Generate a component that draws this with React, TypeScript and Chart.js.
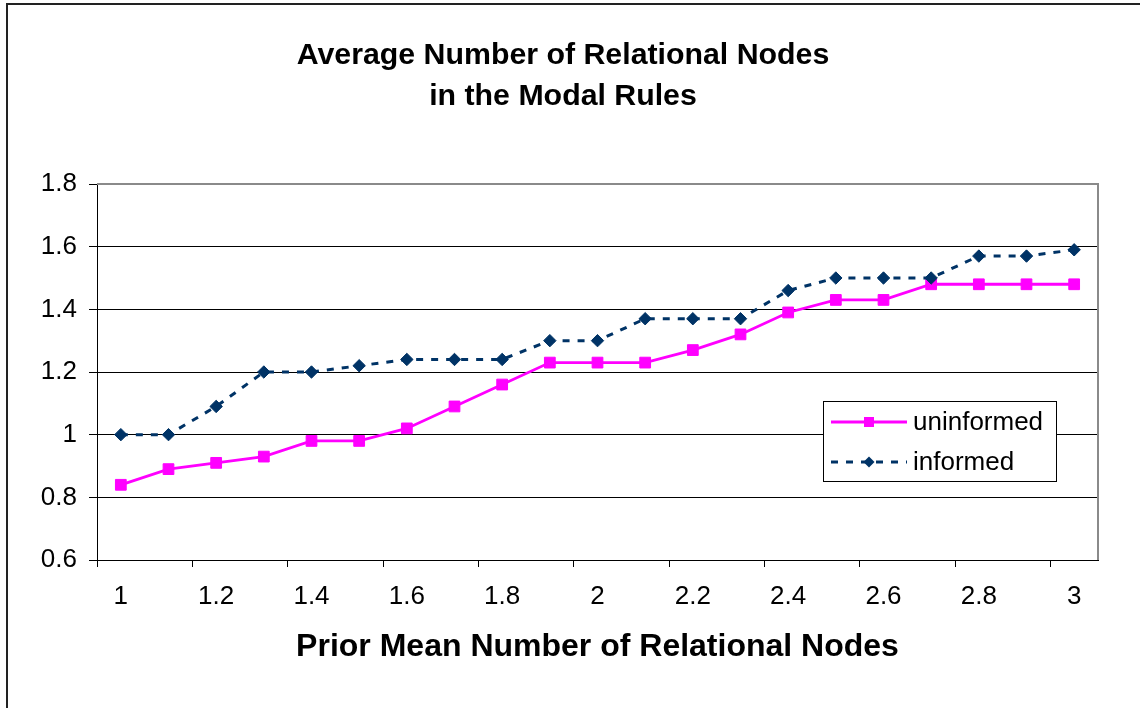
import React, { useEffect, useRef } from 'react';
import { Chart, registerables } from 'chart.js';

Chart.register(...registerables);

const categories = ['1', '1.1', '1.2', '1.3', '1.4', '1.5', '1.6', '1.7', '1.8', '1.9', '2', '2.1', '2.2', '2.3', '2.4', '2.5', '2.6', '2.7', '2.8', '2.9', '3'];
const uninformed = [0.84, 0.89, 0.91, 0.93, 0.98, 0.98, 1.02, 1.09, 1.16, 1.23, 1.23, 1.23, 1.27, 1.32, 1.39, 1.43, 1.43, 1.48, 1.48, 1.48, 1.48];
const informed = [1.0, 1.0, 1.09, 1.2, 1.2, 1.22, 1.24, 1.24, 1.24, 1.3, 1.3, 1.37, 1.37, 1.37, 1.46, 1.5, 1.5, 1.5, 1.57, 1.57, 1.59];
const yTicks = [0.6, 0.8, 1.0, 1.2, 1.4, 1.6, 1.8];
const titleLines = ['Average Number of Relational Nodes', 'in the Modal Rules'];
const xTitle = 'Prior Mean Number of Relational Nodes';
const seriesNames = ['uninformed', 'informed'];

const FONT = '"Liberation Sans", Arial, Helvetica, sans-serif';
const MAGENTA = '#FF00FF';
const NAVY = '#003366';

const framePlugin = {
  id: 'frame',
  beforeDraw(chart: any) {
    const ctx = chart.ctx;
    ctx.save();
    ctx.fillStyle = '#ffffff';
    ctx.fillRect(0, 0, chart.width, chart.height);
    ctx.strokeStyle = '#222222';
    ctx.lineWidth = 2;
    ctx.strokeRect(7, 4, 1400, 1400);
    ctx.restore();
  },
  beforeDatasetsDraw(chart: any) {
    const { ctx, chartArea } = chart;
    ctx.save();
    ctx.strokeStyle = '#8a8a8a';
    ctx.lineWidth = 2;
    ctx.beginPath();
    ctx.moveTo(chartArea.left, chartArea.top);
    ctx.lineTo(chartArea.right, chartArea.top);
    ctx.lineTo(chartArea.right, chartArea.bottom);
    ctx.stroke();
    ctx.restore();
  },
};

const titlePlugin = {
  id: 'customTitle',
  afterDraw(chart: any) {
    const ctx = chart.ctx;
    ctx.save();
    ctx.fillStyle = '#000';
    ctx.font = `bold 30.3px ${FONT}`;
    ctx.textAlign = 'center';
    ctx.textBaseline = 'middle';
    titleLines.forEach((t, i) => ctx.fillText(t, 563, 56 + i * 41));
    ctx.restore();
  },
};

const legendPlugin = {
  id: 'customLegend',
  afterDraw(chart: any) {
    const { ctx, chartArea } = chart;
    const bx = chartArea.right - 275;
    const by = chartArea.top + 217;
    const bw = 233;
    const bh = 80;
    ctx.save();
    ctx.fillStyle = '#fff';
    ctx.fillRect(bx, by, bw, bh);
    ctx.strokeStyle = '#000';
    ctx.lineWidth = 1;
    ctx.strokeRect(bx + 0.5, by + 0.5, bw, bh);
    chart.data.datasets.forEach((ds: any, i: number) => {
      const y = by + 21 + i * 40;
      ctx.save();
      ctx.strokeStyle = ds.borderColor;
      ctx.lineWidth = ds.borderWidth;
      ctx.setLineDash(ds.borderDash || []);
      ctx.beginPath();
      ctx.moveTo(bx + 8, y);
      ctx.lineTo(bx + 84, y);
      ctx.stroke();
      ctx.setLineDash([]);
      ctx.fillStyle = ds.pointBackgroundColor;
      const mx = bx + 46;
      if (ds.pointStyle === 'rect') {
        ctx.fillRect(mx - 5, y - 5, 10, 10);
      } else {
        ctx.beginPath();
        ctx.moveTo(mx, y - 5.5);
        ctx.lineTo(mx + 5.5, y);
        ctx.lineTo(mx, y + 5.5);
        ctx.lineTo(mx - 5.5, y);
        ctx.closePath();
        ctx.fill();
      }
      ctx.restore();
      ctx.fillStyle = '#000';
      ctx.font = `26px ${FONT}`;
      ctx.textAlign = 'left';
      ctx.textBaseline = 'middle';
      ctx.fillText(ds.label, bx + 90, y + 1);
    });
    ctx.restore();
  },
};

export default function App() {
  const ref = useRef<HTMLCanvasElement | null>(null);
  useEffect(() => {
    if (!ref.current) return;
    const chart = new Chart(ref.current, {
      type: 'line',
      data: {
        labels: categories,
        datasets: [
          {
            label: seriesNames[0],
            data: uninformed,
            borderColor: MAGENTA,
            backgroundColor: MAGENTA,
            borderWidth: 2.8,
            pointStyle: 'rect',
            pointRadius: 7.6,
            pointBackgroundColor: MAGENTA,
            pointBorderColor: MAGENTA,
            pointBorderWidth: 1,
            tension: 0,
            fill: false,
            order: 2,
          } as any,
          {
            label: seriesNames[1],
            data: informed,
            borderColor: NAVY,
            backgroundColor: NAVY,
            borderWidth: 3,
            borderDash: [7, 8],
            pointStyle: 'rectRot',
            pointRadius: 6.2,
            pointBackgroundColor: NAVY,
            pointBorderColor: NAVY,
            pointBorderWidth: 1,
            tension: 0,
            fill: false,
            order: 1,
          } as any,
        ],
      },
      options: {
        animation: false,
        responsive: false,
        devicePixelRatio: 1,
        layout: { padding: { left: 0, top: 184, right: 42, bottom: 0 } },
        plugins: {
          legend: { display: false },
          title: { display: false },
          tooltip: { enabled: false },
        },
        scales: {
          x: {
            type: 'category',
            offset: true,
            grid: {
              offset: true,
              drawOnChartArea: false,
              drawTicks: true,
              tickLength: 7,
              lineWidth: 1,
              color: (c: any) => (c.index !== undefined && c.index % 2 === 0 ? '#000' : 'rgba(0,0,0,0)'),
            },
            border: { display: true, color: '#000', width: 1 },
            ticks: {
              autoSkip: false,
              maxRotation: 0,
              minRotation: 0,
              padding: 14,
              color: '#000',
              font: { family: FONT, size: 26 },
              callback: (_v: any, i: number) => (i % 2 === 0 ? categories[i] : ''),
            },
            title: {
              display: true,
              text: xTitle,
              color: '#000',
              font: { family: FONT, size: 32, weight: 'bold' },
              padding: { top: 0, bottom: 42 },
            },
            afterFit: (s: any) => {
              s.height = 148;
            },
          } as any,
          y: {
            min: 0.6,
            max: 1.8,
            afterBuildTicks: (s: any) => {
              s.ticks = yTicks.map((v) => ({ value: v }));
            },
            grid: {
              lineWidth: 1,
              tickLength: 8,
              tickColor: '#000',
              color: (c: any) => (c.tick && Math.abs(c.tick.value - 1.8) < 1e-6 ? 'rgba(0,0,0,0)' : '#000'),
            },
            border: { display: true, color: '#000', width: 1 },
            ticks: {
              padding: 12,
              color: '#000',
              font: { family: FONT, size: 26 },
              callback: (v: any) => String(Math.round(Number(v) * 10) / 10),
            },
            afterFit: (s: any) => {
              s.width = 97;
            },
          } as any,
        },
      },
      plugins: [framePlugin, titlePlugin, legendPlugin],
    });
    return () => chart.destroy();
  }, []);
  return (
    <canvas
      ref={ref}
      width={1140}
      height={708}
      style={{ position: 'fixed', left: 0, top: 0, width: 1140, height: 708 }}
    />
  );
}
